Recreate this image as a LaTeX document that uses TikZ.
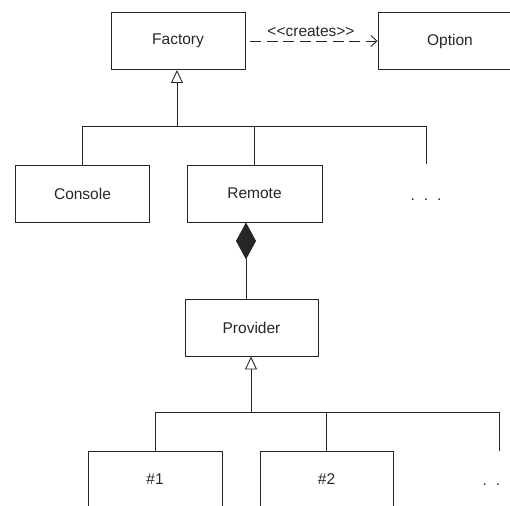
\documentclass[tikz,border=0pt]{standalone}
\usepackage{fontspec}
\setmainfont{Liberation Sans}
\usetikzlibrary{arrows.meta}

\begin{document}
\begin{tikzpicture}[x=1pt,y=-1pt,line width=0.9pt,color=black!85,
  every node/.style={font=\fontsize{15.5}{18}\selectfont},
  cls/.style={draw,rectangle,minimum width=134pt,minimum height=57pt,inner sep=0pt},
  gen/.style={-{Triangle[open,width=12pt,length=13pt]}},
  comp/.style={{Diamond[width=20pt,length=37pt]}-},
  dep/.style={dash pattern=on 11pt off 5.5pt,-{Straight Barb[length=6pt,width=11pt]}}]
\useasboundingbox (0,0) rectangle (510,505);
\clip (0,0) rectangle (510,505);
\node[cls] (factory) at (178,41) {Factory};
\node[cls,minimum width=144pt] (option) at (450,41) {Option};
\draw[dep] ([xshift=5pt]factory.east) -- (option.west) node[midway,above=1pt,xshift=-3pt] {<\kern0pt<creates>\kern0pt>};
\coordinate (bus1) at (177,126);
\draw[gen] (bus1) -- (bus1 |- factory.south);
\node[cls] (console) at (82.5,193.5) {Console};
\node[cls,minimum width=135pt] (remote) at (254.5,193.5) {Remote};
\node[anchor=base] (dots1) at (426,200.5) {.\hskip9pt.\hskip9pt.};
\coordinate (end1) at (426,164);
\draw (console.north) |- (end1 |- bus1) -- (end1);
\draw (remote.north) -- (remote.north |- bus1);
\node[cls,minimum width=133pt] (provider) at (251.5,327.5) {Provider};
\draw[comp] ([xshift=-5.5pt]provider.north |- remote.south) -- ([xshift=-5.5pt]provider.north);
\coordinate (bus2) at (251,412);
\draw[gen] (bus2) -- (bus2 |- provider.south);
\node[cls] (impl1) at (155,479.5) {\#1};
\node[cls,minimum width=133pt] (impl2) at (326.5,479.5) {\#2};
\node[anchor=base] (dots2) at (498,485.5) {.\hskip9pt.\hskip9pt.};
\coordinate (end2) at (499,451);
\draw (impl1.north) |- (end2 |- bus2) -- (end2);
\draw (impl2.north) -- (impl2.north |- bus2);
\end{tikzpicture}
\end{document}
